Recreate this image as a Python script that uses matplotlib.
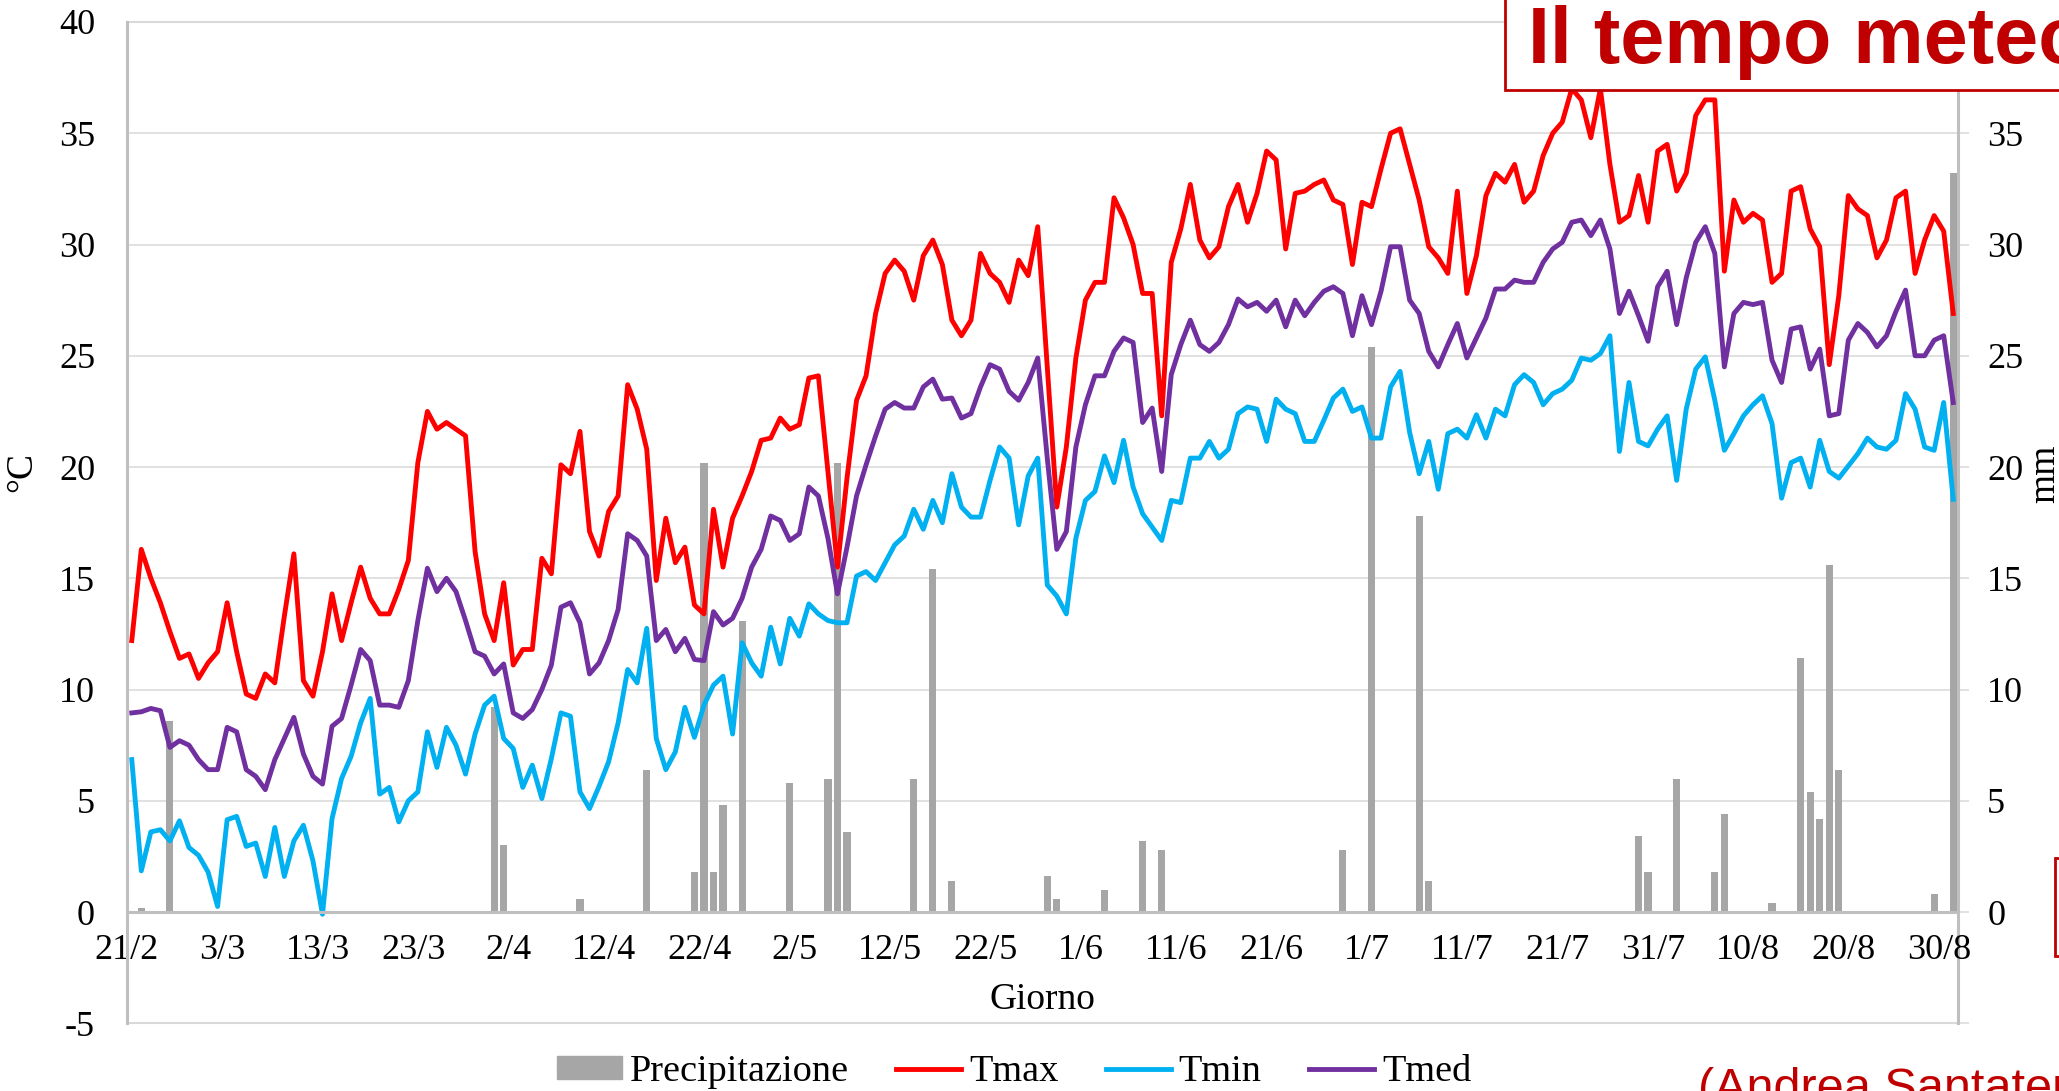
import numpy as np
import matplotlib
matplotlib.use("Agg")
import matplotlib.pyplot as plt
from matplotlib.patches import Rectangle, Patch
from matplotlib.lines import Line2D

# daily values, 21/2 -> 31/8 (192 days)
tmax = [12.2, 16.3, 15.0, 13.9, 12.6, 11.4, 11.6, 10.5, 11.2, 11.7,
        13.9, 11.7, 9.8, 9.6, 10.7, 10.3, 13.3, 16.1, 10.4, 9.7,
        11.7, 14.3, 12.2, 13.9, 15.5, 14.1, 13.4, 13.4, 14.5, 15.8,
        20.2, 22.5, 21.7, 22.0, 21.7, 21.4, 16.2, 13.4, 12.2, 14.8,
        11.1, 11.8, 11.8, 15.9, 15.2, 20.1, 19.7, 21.6, 17.1, 16.0,
        18.0, 18.7, 23.7, 22.6, 20.8, 14.9, 17.7, 15.7, 16.4, 13.8,
        13.4, 18.1, 15.5, 17.7, 18.7, 19.8, 21.2, 21.3, 22.2, 21.7,
        21.9, 24.0, 24.1, 19.8, 15.5, 19.5, 23.0, 24.1, 26.9, 28.7,
        29.3, 28.8, 27.5, 29.5, 30.2, 29.1, 26.6, 25.9, 26.6, 29.6,
        28.7, 28.3, 27.4, 29.3, 28.6, 30.8, 24.5, 18.2, 20.9, 24.9,
        27.5, 28.3, 28.3, 32.1, 31.2, 30.0, 27.8, 27.8, 22.3, 29.2,
        30.7, 32.7, 30.2, 29.4, 29.9, 31.7, 32.7, 31.0, 32.3, 34.2,
        33.8, 29.8, 32.3, 32.4, 32.7, 32.9, 32.0, 31.8, 29.1, 31.9,
        31.7, 33.4, 35.0, 35.2, 33.6, 32.0, 29.9, 29.4, 28.7, 32.4,
        27.8, 29.5, 32.2, 33.2, 32.8, 33.6, 31.9, 32.4, 34.0, 35.0,
        35.5, 37.0, 36.5, 34.8, 37.0, 33.6, 31.0, 31.3, 33.1, 31.0,
        34.2, 34.5, 32.4, 33.2, 35.8, 36.5, 36.5, 28.8, 32.0, 31.0,
        31.4, 31.1, 28.3, 28.7, 32.4, 32.6, 30.7, 29.9, 24.6, 27.7,
        32.2, 31.6, 31.3, 29.4, 30.2, 32.1, 32.4, 28.7, 30.2, 31.3,
        30.6, 26.9]

tmin = [6.85, 1.85, 3.6, 3.7, 3.2, 4.1, 2.9, 2.55, 1.8, 0.25,
        4.15, 4.3, 2.95, 3.1, 1.6, 3.8, 1.6, 3.2, 3.9, 2.3,
        -0.1, 4.2, 6.0, 7.0, 8.5, 9.6, 5.3, 5.6, 4.05, 5.0,
        5.4, 8.1, 6.5, 8.3, 7.5, 6.2, 8.0, 9.3, 9.7, 7.8,
        7.35, 5.6, 6.6, 5.1, 6.9, 8.95, 8.8, 5.4, 4.65, 5.65,
        6.75, 8.5, 10.9, 10.3, 12.75, 7.8, 6.4, 7.2, 9.2, 7.85,
        9.3, 10.2, 10.6, 8.0, 12.1, 11.2, 10.6, 12.8, 11.15, 13.2,
        12.4, 13.85, 13.4, 13.1, 13.0, 13.0, 15.1, 15.3, 14.9, 15.7,
        16.5, 16.9, 18.1, 17.2, 18.5, 17.5, 19.7, 18.2, 17.75, 17.75,
        19.4, 20.9, 20.4, 17.4, 19.6, 20.4, 14.7, 14.2, 13.4, 16.8,
        18.5, 18.9, 20.5, 19.3, 21.2, 19.1, 17.9, 17.3, 16.7, 18.5,
        18.4, 20.4, 20.4, 21.15, 20.4, 20.8, 22.4, 22.7, 22.6, 21.15,
        23.05, 22.6, 22.4, 21.15, 21.15, 22.1, 23.1, 23.5, 22.5, 22.7,
        21.3, 21.3, 23.6, 24.3, 21.55, 19.7, 21.15, 19.0, 21.5, 21.7,
        21.3, 22.35, 21.3, 22.6, 22.3, 23.7, 24.15, 23.8, 22.8, 23.3,
        23.5, 23.9, 24.9, 24.8, 25.1, 25.9, 20.7, 23.8, 21.15, 20.95,
        21.7, 22.3, 19.4, 22.6, 24.4, 24.95, 23.0, 20.75, 21.5, 22.3,
        22.8, 23.2, 21.95, 18.6, 20.2, 20.4, 19.1, 21.2, 19.8, 19.5,
        20.05, 20.6, 21.3, 20.9, 20.8, 21.2, 23.3, 22.6, 20.9, 20.75,
        22.9, 18.55]

tmed = [8.95, 9.0, 9.15, 9.05, 7.4, 7.7, 7.5, 6.85, 6.4, 6.4,
        8.3, 8.1, 6.4, 6.1, 5.5, 6.85, 7.8, 8.75, 7.1, 6.1,
        5.75, 8.35, 8.7, 10.2, 11.8, 11.3, 9.3, 9.3, 9.2, 10.4,
        13.1, 15.45, 14.4, 15.0, 14.4, 13.1, 11.7, 11.5, 10.7, 11.15,
        8.95, 8.7, 9.1, 10.0, 11.1, 13.7, 13.9, 13.0, 10.7, 11.2,
        12.2, 13.6, 17.0, 16.7, 16.0, 12.2, 12.7, 11.7, 12.3, 11.35,
        11.3, 13.5, 12.9, 13.2, 14.1, 15.5, 16.3, 17.8, 17.6, 16.7,
        17.0, 19.1, 18.7, 16.8, 14.3, 16.4, 18.7, 20.1, 21.4, 22.6,
        22.9, 22.65, 22.65, 23.6, 23.95, 23.05, 23.1, 22.2, 22.4, 23.6,
        24.6, 24.4, 23.4, 23.0, 23.8, 24.9, 20.4, 16.3, 17.1, 20.9,
        22.8, 24.1, 24.1, 25.2, 25.8, 25.6, 22.0, 22.65, 19.8, 24.15,
        25.5, 26.6, 25.5, 25.2, 25.6, 26.4, 27.55, 27.2, 27.4, 27.0,
        27.5, 26.3, 27.5, 26.8, 27.4, 27.9, 28.1, 27.8, 25.9, 27.7,
        26.4, 27.9, 29.9, 29.9, 27.5, 26.9, 25.2, 24.5, 25.5, 26.45,
        24.9, 25.8, 26.7, 28.0, 28.0, 28.4, 28.3, 28.3, 29.2, 29.8,
        30.1, 31.0, 31.1, 30.4, 31.1, 29.8, 26.9, 27.9, 26.8, 25.65,
        28.1, 28.8, 26.4, 28.5, 30.1, 30.8, 29.6, 24.5, 26.9, 27.4,
        27.3, 27.4, 24.8, 23.8, 26.2, 26.3, 24.4, 25.3, 22.3, 22.4,
        25.7, 26.45, 26.05, 25.4, 25.9, 27.0, 27.95, 25.0, 25.0, 25.7,
        25.9, 22.9]

precip = [0, 0.2, 0, 0, 8.6, 0, 0, 0, 0, 0,
          0, 0, 0, 0, 0, 0, 0, 0, 0, 0,
          0, 0, 0, 0, 0, 0, 0, 0, 0, 0,
          0, 0, 0, 0, 0, 0, 0, 0, 9.2, 3.0,
          0, 0, 0, 0, 0, 0, 0, 0.6, 0, 0,
          0, 0, 0, 0, 6.4, 0, 0, 0, 0, 1.8,
          20.2, 1.8, 4.8, 0, 13.1, 0, 0, 0, 0, 5.8,
          0, 0, 0, 6.0, 20.2, 3.6, 0, 0, 0, 0,
          0, 0, 6.0, 0, 15.4, 0, 1.4, 0, 0, 0,
          0, 0, 0, 0, 0, 0, 1.6, 0.6, 0, 0,
          0, 0, 1.0, 0, 0, 0, 3.2, 0, 2.8, 0,
          0, 0, 0, 0, 0, 0, 0, 0, 0, 0,
          0, 0, 0, 0, 0, 0, 0, 2.8, 0, 0,
          25.4, 0, 0, 0, 0, 17.8, 1.4, 0, 0, 0,
          0, 0, 0, 0, 0, 0, 0, 0, 0, 0,
          0, 0, 0, 0, 0, 0, 0, 0, 3.4, 1.8,
          0, 0, 6.0, 0, 0, 0, 1.8, 4.4, 0, 0,
          0, 0, 0.4, 0, 0, 11.4, 5.4, 4.2, 15.6, 6.4,
          0, 0, 0, 0, 0, 0, 0, 0, 0, 0.8,
          0, 33.2]

tick_labels = ["21/2", "3/3", "13/3", "23/3", "2/4", "12/4", "22/4", "2/5",
               "12/5", "22/5", "1/6", "11/6", "21/6", "1/7", "11/7", "21/7",
               "31/7", "10/8", "20/8", "30/8"]

C_MAX = "#FF0000"
C_MIN = "#00B0F0"
C_MED = "#7030A0"
C_BAR = "#A6A6A6"
C_GRID = "#D9D9D9"
C_AXIS = "#BFBFBF"
C_TITLE = "#C00000"
SERIF = "Liberation Serif"
FS = 26
LW = 3.5

plt.rcParams["font.family"] = [SERIF, "DejaVu Serif"]

W, H = 2059, 1091
fig = plt.figure(figsize=(W / 100, H / 100), dpi=100)
left, right = 127 / W, 1958 / W
top, bottom = 1 - 22 / H, 1 - 1023.3 / H
ax = fig.add_axes([left, bottom, right - left, top - bottom])
ax2 = ax.twinx()

# spines first: moving a spine resets the tick formatting
for s in ("top", "right"):
    ax.spines[s].set_visible(False)
ax.spines["bottom"].set_position(("data", 0))
ax.spines["bottom"].set_color(C_AXIS)
ax.spines["bottom"].set_linewidth(2.2)
ax.spines["left"].set_color(C_AXIS)
ax.spines["left"].set_linewidth(2.2)
for s in ("top", "left", "bottom"):
    ax2.spines[s].set_visible(False)
ax2.spines["right"].set_color(C_AXIS)
ax2.spines["right"].set_linewidth(2.2)

n = len(tmax)
x = np.arange(n) + 0.5

# precipitation on secondary axis, drawn below the temperature lines
ax2.bar(x, precip, width=0.75, color=C_BAR, zorder=2)
ax.plot(x, tmax, color=C_MAX, lw=LW, solid_joinstyle="round")
ax.plot(x, tmin, color=C_MIN, lw=LW, solid_joinstyle="round")
ax.plot(x, tmed, color=C_MED, lw=LW, solid_joinstyle="round")

ax.set_zorder(ax2.get_zorder() + 1)
ax.patch.set_visible(False)

for a in (ax, ax2):
    a.set_xlim(0, 192)
    a.set_ylim(-5, 40)

ax.set_xticks(np.arange(0, 191, 10))
ax.set_xticklabels(tick_labels)
ax.tick_params(axis="x", length=0, pad=16, labelsize=FS)

yt = np.arange(-5, 41, 5)
ax.set_yticks(yt)
ax.set_yticklabels([str(v) for v in yt])
ax.tick_params(axis="y", length=0, pad=23, labelsize=FS)

ax2.set_yticks(yt)
ax2.set_yticklabels(["" if v < 0 or v == 40 else str(v) for v in yt])
ax2.tick_params(axis="y", direction="out", length=8, width=1.1,
                color=C_GRID, pad=13, labelsize=FS)

ax2.set_axisbelow(True)
ax2.grid(True, axis="both", color=C_GRID, lw=1.1, zorder=0)
ax2.axhline(-5, color=C_GRID, lw=1.5, clip_on=False, zorder=0)
ax.axhline(40, color=C_GRID, lw=1.5, clip_on=False, zorder=0)

fig.text(1042 / W, 1 - 1000 / H, "Giorno", fontsize=27,
         ha="center", va="center")
fig.text(22 / W, 1 - 472 / H, "°C", fontsize=27,
         rotation=90, ha="center", va="center")
fig.text(2045 / W, 1 - 474 / H, "mm", fontsize=27,
         rotation=90, ha="center", va="center")

handles = [Patch(color=C_BAR),
           Line2D([], [], color=C_MAX, lw=LW),
           Line2D([], [], color=C_MIN, lw=LW),
           Line2D([], [], color=C_MED, lw=LW)]
fig.legend(handles, ["Precipitazione", "Tmax", "Tmin", "Tmed"],
           loc="center", bbox_to_anchor=(1014 / W, 1 - 1072 / H), ncol=4,
           frameon=False, fontsize=27.5,
           handlelength=1.7, handleheight=0.55, handletextpad=0.2,
           columnspacing=1.25)

# slide overlays: title box, small box on the right, author note
fig.patches.append(Rectangle((1505 / W, 1 - 89.5 / H), 0.4, 0.2,
                             transform=fig.transFigure, facecolor="white",
                             edgecolor=C_TITLE, lw=2, zorder=10))
fig.text(1528 / W, 1 - 62.5 / H, "Il tempo meteorologico", fontsize=57,
         fontweight="bold", family="Liberation Sans", color=C_TITLE,
         ha="left", va="baseline", zorder=11)
fig.patches.append(Rectangle((2055 / W, 1 - 956 / H), 0.05, 98 / H,
                             transform=fig.transFigure, facecolor="white",
                             edgecolor=C_TITLE, lw=2, zorder=10))
fig.text(1698 / W, 1 - 1102 / H, "(Andrea Santaterra)", fontsize=35,
         family="Liberation Sans", color=C_TITLE, ha="left", va="baseline",
         zorder=11)

fig.savefig("out.png", dpi=100)
